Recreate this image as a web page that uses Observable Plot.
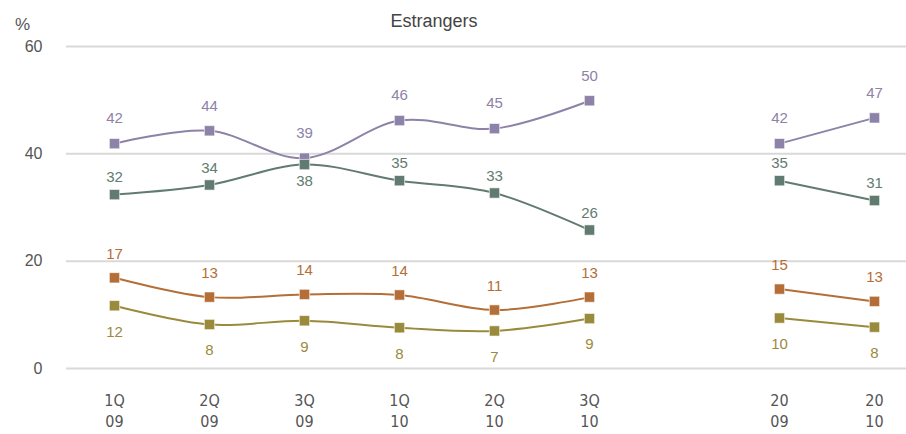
<!DOCTYPE html>
<html>
<head>
<meta charset="utf-8">
<script src="https://cdn.jsdelivr.net/npm/d3@7"></script>
<script src="https://cdn.jsdelivr.net/npm/@observablehq/plot@0.6"></script>
<style>
  html, body { margin: 0; padding: 0; background: #fff; }
  #chart { position: relative; width: 906px; height: 434px; }
  #chart svg { font-family: "Liberation Sans", Arial, sans-serif; }
</style>
</head>
<body>
<div id="chart"></div>
<script>
// ---- data ----
const title = "Estrangers";
const unit = "%";
const periods = ["1Q\n09", "2Q\n09", "3Q\n09", "1Q\n10", "2Q\n10", "3Q\n10", "20\n09", "20\n10"];
const segments = ["quarter", "quarter", "quarter", "quarter", "quarter", "quarter", "year", "year"];
const yTicks = [0, 20, 40, 60];

const seriesNames = ["Sèrie 1", "Sèrie 2", "Sèrie 3", "Sèrie 4"];
const seriesColors = ["#8d82a7", "#627b71", "#b46e37", "#9a8a3c"];

const s1Values = [41.9, 44.3, 39.2, 46.2, 44.7, 49.9, 41.9, 46.7];
const s1Labels = [42, 44, 39, 46, 45, 50, 42, 47];
const s1LabelPos = ["above", "above", "above", "above", "above", "above", "above", "above"];

const s2Values = [32.4, 34.2, 38.0, 35.0, 32.7, 25.8, 35.0, 31.3];
const s2Labels = [32, 34, 38, 35, 33, 26, 35, 31];
const s2LabelPos = ["above", "above", "below", "above", "above", "above", "above", "above"];

const s3Values = [16.9, 13.3, 13.8, 13.7, 10.9, 13.3, 14.8, 12.5];
const s3Labels = [17, 13, 14, 14, 11, 13, 15, 13];
const s3LabelPos = ["above", "above", "above", "above", "above", "above", "above", "above"];

const s4Values = [11.7, 8.2, 8.9, 7.6, 7.0, 9.3, 9.4, 7.7];
const s4Labels = [12, 8, 9, 8, 7, 9, 10, 8];
const s4LabelPos = ["below", "below", "below", "below", "below", "below", "below", "below"];

// ---- build table ----
const allValues = [s1Values, s2Values, s3Values, s4Values];
const allLabels = [s1Labels, s2Labels, s3Labels, s4Labels];
const allPos = [s1LabelPos, s2LabelPos, s3LabelPos, s4LabelPos];
const rows = [];
seriesNames.forEach((name, si) => {
  periods.forEach((p, i) => {
    rows.push({
      series: name,
      period: p,
      segment: segments[i],
      key: name + "|" + segments[i],
      value: allValues[si][i],
      label: String(allLabels[si][i]),
      pos: allPos[si][i]
    });
  });
});

const GAP = " ";
const xDomain = [...periods.slice(0, 6), GAP, ...periods.slice(6)];

const aboveOffset = {"Sèrie 1": -25, "Sèrie 2": -17, "Sèrie 3": -24, "Sèrie 4": -24};
const belowOffset = {"Sèrie 1": 25, "Sèrie 2": 17, "Sèrie 3": 25, "Sèrie 4": 26};
const labelMarks = [];
seriesNames.forEach(name => {
  labelMarks.push(Plot.text(rows.filter(d => d.series === name && d.pos === "above"), {
    x: "period", y: "value", text: "label", fill: "series",
    dy: aboveOffset[name], fontSize: 15
  }));
  labelMarks.push(Plot.text(rows.filter(d => d.series === name && d.pos === "below"), {
    x: "period", y: "value", text: "label", fill: "series",
    dy: belowOffset[name], fontSize: 15
  }));
});

const plot = Plot.plot({
  width: 906,
  height: 434,
  marginTop: 46,
  marginBottom: 66,
  marginLeft: 66,
  marginRight: 0,
  style: {background: "#fff", fontFamily: "Liberation Sans, Arial, sans-serif"},
  x: {type: "point", domain: xDomain, range: [112, 876], padding: 0},
  y: {domain: [0, 60], range: [368, 46]},
  color: {domain: seriesNames, range: seriesColors},
  marks: [
    Plot.ruleY(yTicks, {stroke: "#d9d9d9", strokeWidth: 2}),
    Plot.axisY({ticks: yTicks, tickSize: 0, tickPadding: 24, label: null,
      fontSize: 16, fill: "#555"}),
    Plot.axisX({ticks: periods, tickSize: 0, tickPadding: 22, label: null,
      fontSize: 16, fill: "#555", lineHeight: 1.35,
      fontFamily: "Liberation Sans Narrow, DejaVu Sans Condensed, sans-serif"}),
    Plot.line(rows, {x: "period", y: "value", z: "key", stroke: "series", strokeWidth: 2, curve: "cardinal"}),
    Plot.dot(rows, {x: "period", y: "value", fill: "series", symbol: "square", r: 5.8, stroke: "#fff", strokeWidth: 0.6}),
    ...labelMarks,
    Plot.text([title], {frameAnchor: "top", dx: -52.5, dy: -32, fontSize: 18, fill: "#444"}),
    Plot.text([unit], {frameAnchor: "top-left", dx: -44, dy: -29, fontSize: 17, fill: "#555", textAnchor: "middle"})
  ]
});
document.getElementById("chart").appendChild(plot);
</script>
</body>
</html>
